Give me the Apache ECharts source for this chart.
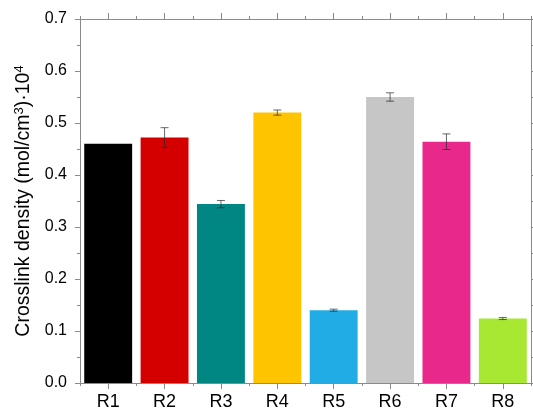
<!DOCTYPE html>
<html><head><meta charset="utf-8">
<script src="https://cdn.jsdelivr.net/npm/echarts@6/dist/echarts.min.js"></script>
<style>html,body{margin:0;padding:0;background:#fff}#c{width:533px;height:412px}</style>
</head><body><div id="c"></div>
<script>
var categories = ['R1','R2','R3','R4','R5','R6','R7','R8'];
var values = [0.460, 0.472, 0.344, 0.520, 0.140, 0.550, 0.464, 0.124];
var errors = [0.000, 0.019, 0.007, 0.005, 0.002, 0.008, 0.015, 0.002];
var colors = ['#000000','#d40000','#008784','#ffc400','#22ace6','#c6c6c6','#e8298b','#a8e832'];
var yTicks = [0, 0.1, 0.2, 0.3, 0.4, 0.5, 0.6, 0.7];

var font = 'Liberation Sans, Arial, sans-serif';
var axisCol = '#8a8a8a';
var chart = echarts.init(document.getElementById('c'));

function catAxis(pos, major, showLabel) {
  return {
    type: 'category', data: categories, position: pos, boundaryGap: true,
    axisLine: { show: major, lineStyle: { color: axisCol, width: 1 } },
    axisTick: { show: true, alignWithLabel: major, length: major ? 6 : 3, lineStyle: { color: axisCol } },
    axisLabel: { show: showLabel, color: '#000', fontFamily: font, fontSize: 18, margin: 10 },
    splitLine: { show: false }
  };
}
function valAxis(pos, showLabel) {
  var a = {
    type: 'value', position: pos, min: 0, max: 0.7, interval: 0.1,
    axisLine: { show: true, lineStyle: { color: axisCol, width: 1 } },
    axisTick: { show: true, length: 5, lineStyle: { color: axisCol } },
    minorTick: { show: true, splitNumber: 2, length: 3, lineStyle: { color: axisCol } },
    axisLabel: { show: showLabel, color: '#000', fontFamily: font, fontSize: 16, margin: 13,
      formatter: function (v) { return v.toFixed(1); } },
    splitLine: { show: false }
  };
  if (showLabel) {
    a.name = 'Crosslink density (mol/cm{sup|3}){dot|·}10{sup|4}';
    a.nameLocation = 'middle';
    a.nameGap = 46;
    a.nameTextStyle = { color: '#000', fontFamily: font, fontSize: 19.5,
      rich: {
        sup: { fontFamily: font, fontSize: 13, color: '#000', verticalAlign: 'top', padding: [0, 0, 8, 0] },
        dot: { fontFamily: font, fontSize: 19.5, color: '#000' }
      } };
  }
  return a;
}

chart.setOption({
  animation: false,
  grid: { left: 80, right: 2, top: 19, bottom: 29 },
  xAxis: [catAxis('bottom', true, true), catAxis('bottom', false, false),
          catAxis('top', true, false), catAxis('top', false, false)],
  yAxis: [valAxis('left', true), valAxis('right', false)],
  series: [
    {
      type: 'bar', xAxisIndex: 0, yAxisIndex: 0, barWidth: '85%',
      data: values.map(function (v, i) {
        return { value: v, itemStyle: { color: colors[i] } };
      })
    },
    {
      type: 'custom', xAxisIndex: 0, yAxisIndex: 0,
      data: values.map(function (v, i) { return [i, v, errors[i]]; }),
      renderItem: function (params, api) {
        var i = api.value(0), v = api.value(1), e = api.value(2);
        if (!e) return null;
        var hi = api.coord([i, v + e]);
        var lo = api.coord([i, v - e]);
        var cw = 4;
        var st = { stroke: 'rgba(40,40,40,0.7)', lineWidth: 1 };
        return { type: 'group', children: [
          { type: 'line', shape: { x1: hi[0], y1: hi[1], x2: lo[0], y2: lo[1] }, style: st },
          { type: 'line', shape: { x1: hi[0] - cw, y1: hi[1], x2: hi[0] + cw, y2: hi[1] }, style: st },
          { type: 'line', shape: { x1: lo[0] - cw, y1: lo[1], x2: lo[0] + cw, y2: lo[1] }, style: st }
        ]};
      },
      z: 5
    }
  ]
});
</script></body></html>
